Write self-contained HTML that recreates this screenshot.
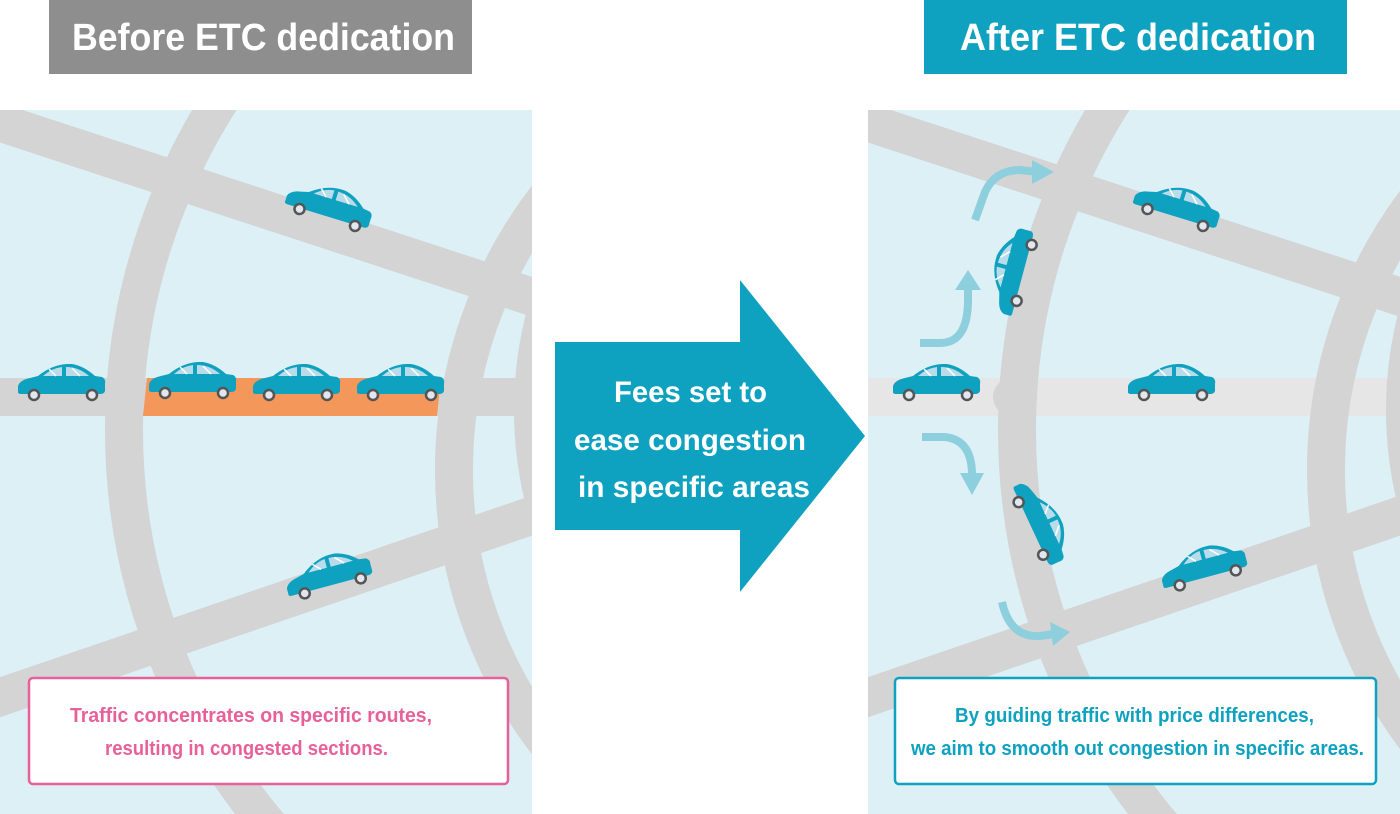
<!DOCTYPE html>
<html><head><meta charset="utf-8"><style>html,body{margin:0;padding:0;background:#fff;width:1400px;height:814px;overflow:hidden}svg{display:block}</style></head>
<body>
<svg width="1400" height="814" viewBox="0 0 1400 814" xmlns="http://www.w3.org/2000/svg" font-family="Liberation Sans, sans-serif" font-weight="bold">
<defs>
<symbol id="car" viewBox="0 0 90 40" width="90" height="40">
<path d="M2,29 L2,22 Q4,16 14,14 L22,12 Q38,-1 56,0 Q68,2 79,12 L86,13 Q90,15 89,20 L89,27 Q88,30 84,30 L4,30 Z" fill="#0ea1c0"/>
<path d="M27,12 Q36,4 46,3 L46,12 Z" fill="#b9dcea"/>
<path d="M50,3 Q63,3 73,12 L50,12 Z" fill="#b9dcea"/>
<line x1="33" y1="5" x2="40" y2="12" stroke="#fff" stroke-width="1.5"/>
<line x1="56" y1="4" x2="64" y2="12" stroke="#fff" stroke-width="1.5"/>
<circle cx="18" cy="31" r="5" fill="#e2e6ee" stroke="#555" stroke-width="2.5"/>
<circle cx="76" cy="31" r="5" fill="#e2e6ee" stroke="#555" stroke-width="2.5"/>
</symbol>
<clipPath id="cl"><rect x="0" y="110" width="532" height="704"/></clipPath>
<clipPath id="cr"><rect x="868" y="110" width="532" height="704"/></clipPath>
</defs>

<!-- LEFT PANEL -->
<g clip-path="url(#cl)">
<rect x="0" y="110" width="532" height="704" fill="#dcf0f5"/>
<g stroke="#d4d4d4" stroke-width="38" fill="none">
<line x1="-20" y1="116" x2="560" y2="306"/>
<line x1="-20" y1="704" x2="560" y2="506"/>
<line x1="0" y1="397" x2="532" y2="397"/>
<circle cx="737" cy="430" r="613"/>
<circle cx="900" cy="470" r="446"/>
<circle cx="905" cy="410" r="372"/>
</g>
<polygon points="147,378 441,378 437,416 143,416" fill="#f4975a"/>
<use href="#car" x="16" y="364"/>
<use href="#car" x="147" y="362"/>
<use href="#car" x="251" y="364"/>
<use href="#car" x="355" y="364"/>
<use href="#car" x="283" y="186" transform="rotate(17 327 208)"/>
<use href="#car" x="283" y="556" transform="rotate(-15 327 576)"/>
</g>

<!-- RIGHT PANEL -->
<g clip-path="url(#cr)">
<rect x="868" y="110" width="532" height="704" fill="#dcf0f5"/>
<line x1="868" y1="397" x2="1400" y2="397" stroke="#e6e6e6" stroke-width="38"/>
<g stroke="#d4d4d4" stroke-width="38" fill="none">
<line x1="848" y1="116" x2="1428" y2="306"/>
<line x1="848" y1="704" x2="1428" y2="506"/>
<circle cx="1630" cy="430" r="613"/>
<circle cx="1772" cy="470" r="446"/>
<circle cx="1777" cy="410" r="372"/>
</g>
<circle cx="1012" cy="397" r="19" fill="#d4d4d4"/>
<g stroke="#8ecfdd" stroke-width="8" fill="none">
<path d="M920,343 L940,343 Q968,343 968,300 L968,285"/>
<path d="M975,220 L985,192 Q995,170 1020,170 L1038,172"/>
<path d="M922,437 L945,437 Q972,440 972,475"/>
<path d="M1002,602 Q1010,638 1040,636 L1055,634"/>
</g>
<g fill="#8ecfdd">
<polygon points="955,290 981,290 968,270"/>
<polygon points="1032,160 1032,184 1054,172"/>
<polygon points="960,473 984,473 972,495"/>
<polygon points="1050,622 1053,646 1070,632"/>
</g>
<use href="#car" x="891" y="364"/>
<use href="#car" x="1126" y="364"/>
<use href="#car" x="1131" y="186" transform="rotate(17 1175 208)"/>
<use href="#car" x="1158" y="548" transform="rotate(-15 1202 568)"/>
<use href="#car" x="968" y="252" transform="rotate(-75 1013 272)"/>
<use href="#car" x="995" y="502" transform="rotate(65 1040 522)"/>
</g>

<!-- HEADERS -->
<rect x="49" y="0" width="423" height="74" fill="#8e8e8e"/>
<text x="72" y="50" font-size="38" fill="#fff" textLength="383" lengthAdjust="spacingAndGlyphs">Before ETC dedication</text>
<rect x="924" y="0" width="423" height="74" fill="#0ea1c0"/>
<text x="960" y="50" font-size="38" fill="#fff" textLength="356" lengthAdjust="spacingAndGlyphs">After ETC dedication</text>

<!-- MIDDLE ARROW -->
<polygon points="555,342 740,342 740,280 865,436 740,592 740,530 555,530" fill="#0ea1c0"/>
<g fill="#fff" font-size="30">
<text x="614" y="402" textLength="153" lengthAdjust="spacingAndGlyphs">Fees set to</text>
<text x="574" y="450" textLength="232" lengthAdjust="spacingAndGlyphs">ease congestion</text>
<text x="578" y="497" textLength="232" lengthAdjust="spacingAndGlyphs">in specific areas</text>
</g>

<!-- TEXT BOXES -->
<rect x="29" y="678" width="479" height="106" rx="4" fill="#fff" stroke="#e8609a" stroke-width="2.5"/>
<g fill="#e8609a" font-size="20">
<text x="70" y="722" textLength="362" lengthAdjust="spacingAndGlyphs">Traffic concentrates on specific routes,</text>
<text x="105" y="755" textLength="283" lengthAdjust="spacingAndGlyphs">resulting in congested sections.</text>
</g>
<rect x="895" y="678" width="481" height="106" rx="4" fill="#fff" stroke="#0ea1c0" stroke-width="2.5"/>
<g fill="#0ea1c0" font-size="20">
<text x="955" y="722" textLength="359" lengthAdjust="spacingAndGlyphs">By guiding traffic with price differences,</text>
<text x="911" y="755" textLength="453" lengthAdjust="spacingAndGlyphs">we aim to smooth out congestion in specific areas.</text>
</g>
</svg>
</body></html>
